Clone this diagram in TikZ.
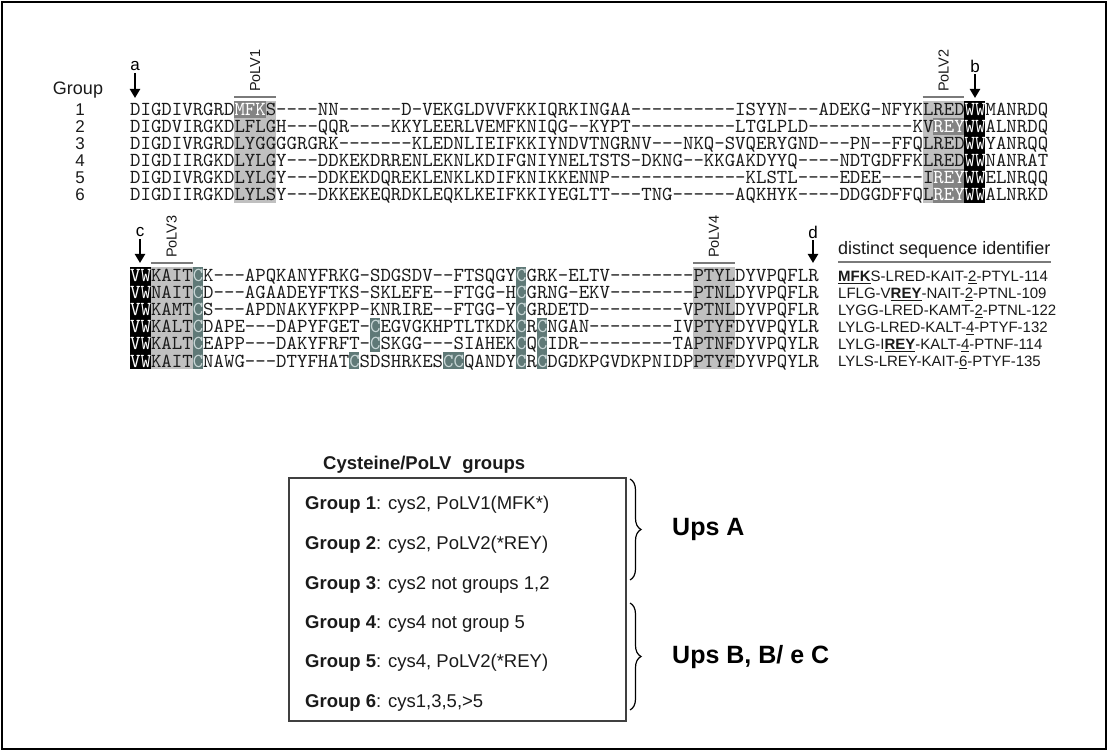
\documentclass[tikz,border=0pt]{standalone}
\usepackage{fontspec}
\setmainfont{Liberation Sans}
\newfontfamily\seqfont{lmmono10-regular.otf}
\usetikzlibrary{arrows.meta,decorations.pathreplacing}
\definecolor{lg}{HTML}{C0C0C0}
\definecolor{dg}{HTML}{838383}
\definecolor{cy}{HTML}{5F7977}
\definecolor{cyt}{HTML}{C8D6D6}
\definecolor{barc}{HTML}{7A7A7A}
\definecolor{txt}{HTML}{1A1A1A}
\ExplSyntaxOn
\cs_new:Npn \dsh #1 { \prg_replicate:nn {#1} { -\kern0pt } }
\ExplSyntaxOff
\newcommand\wt[1]{\textcolor{white}{#1}}
\newcommand\ct[1]{\textcolor{cyt}{#1}}
\newcommand\ulb[1]{\underline{\textbf{#1}}}
\newcommand\uln[1]{\underline{#1}}
% #1 colour, #2 first column, #3 last column, #4 first row centre, #5 last row centre
\newcommand\cellfill[5]{\fill[#1] ({130+(#2-1)*10.43},{#4-8.5}) rectangle ({130+#3*10.43},{#5+8.5});}
\begin{document}
\begin{tikzpicture}[x=1pt,y=-1pt,
  seq/.style={anchor=base west, inner sep=0pt, font=\seqfont\fontsize{19.87pt}{20pt}\selectfont, text=txt},
  idt/.style={anchor=base west, inner sep=0pt, font=\fontsize{15pt}{17pt}\selectfont, text=txt},
  num/.style={inner sep=0pt, font=\fontsize{17pt}{19pt}\selectfont, text=txt},
  polv/.style={rotate=90, anchor=west, inner sep=0pt, font=\fontsize{14.5pt}{16pt}\selectfont, text=txt},
  polvbar/.style={draw=barc, line width=2.2pt},
  tagarrow/.style={-{Triangle[width=10pt,length=9pt]}, line width=2.6pt, shorten <=2pt},
  arrlab/.style={inner sep=0pt, font=\fontsize{17pt}{19pt}\selectfont},
  grp/.style={anchor=base west, inner sep=0pt, font=\fontsize{18.5pt}{21pt}\selectfont, text=txt},
  ups/.style={anchor=west, inner sep=0pt, font=\bfseries\fontsize{25pt}{28pt}\selectfont},
  brc/.style={decorate, decoration={brace, amplitude=11pt}, line width=1.2pt},
]
\useasboundingbox (0,0) rectangle (1109,751);
\draw[line width=2pt] (2,2) rectangle (1106,749);

% ---------- shading, top block
\cellfill{lg}{11}{14}{110}{195}
\cellfill{dg}{11}{13}{110}{110}
\cellfill{lg}{77}{80}{110}{195}
\cellfill{dg}{78}{80}{127}{127}
\cellfill{dg}{78}{80}{178}{195}
\cellfill{black}{81}{82}{110}{195}
% ---------- shading, bottom block
\cellfill{black}{1}{2}{276}{361}
\cellfill{lg}{3}{6}{276}{361}
\cellfill{cy}{7}{7}{276}{361}
\cellfill{lg}{55}{58}{276}{361}
\cellfill{cy}{38}{38}{276}{361}
\cellfill{cy}{24}{24}{327}{344}
\cellfill{cy}{40}{40}{327}{361}
\cellfill{cy}{22}{22}{361}{361}
\cellfill{cy}{31}{32}{361}{361}

% ---------- top block
\node[inner sep=0pt, font=\fontsize{18pt}{20pt}\selectfont, text=txt] (grouplab) at (78,90) {Group};
\node[num] (n1) at (80,110) {1};
\node[num] (n2) at (80,127) {2};
\node[num] (n3) at (80,144) {3};
\node[num] (n4) at (80,161) {4};
\node[num] (n5) at (80,178) {5};
\node[num] (n6) at (80,195) {6};

\node[seq] (t1) at (130,116) {DIGDIVRGRD\wt{MFK}S\dsh{4}NN\dsh{6}D\dsh{1}VEKGLDVVFKKIQRKINGAA\dsh{10}ISYYN\dsh{3}ADEKG\dsh{1}NFYKLRED\wt{WW}MANRDQ};
\node[seq] (t2) at (130,133) {DIGDVIRGKDLFLGH\dsh{3}QQR\dsh{4}KKYLEERLVEMFKNIQG\dsh{2}KYPT\dsh{10}LTGLPLD\dsh{10}KV\wt{REY}\wt{WW}ALNRDQ};
\node[seq] (t3) at (130,150) {DIGDIVRGRDLYGGGGRGRK\dsh{7}KLEDNLIEIFKKIYNDVTNGRNV\dsh{3}NKQ\dsh{1}SVQERYGND\dsh{3}PN\dsh{2}FFQLRED\wt{WW}YANRQQ};
\node[seq] (t4) at (130,167) {DIGDIIRGKDLYLGY\dsh{3}DDKEKDRRENLEKNLKDIFGNIYNELTSTS\dsh{1}DKNG\dsh{2}KKGAKDYYQ\dsh{4}NDTGDFFKLRED\wt{WW}NANRAT};
\node[seq] (t5) at (130,184) {DIGDIVRGKDLYLGY\dsh{3}DDKEKDQREKLENKLKDIFKNIKKENNP\dsh{13}KLSTL\dsh{4}EDEE\dsh{4}I\wt{REY}\wt{WW}ELNRQQ};
\node[seq] (t6) at (130,201) {DIGDIIRGKDLYLSY\dsh{3}DKKEKEQRDKLEQKLKEIFKKIYEGLTT\dsh{3}TNG\dsh{6}AQKHYK\dsh{4}DDGGDFFQL\wt{REY}\wt{WW}ALNRKD};

% PoLV1, PoLV2, arrows a, b
\draw[polvbar] (234.3,97) -- (276.0,97);
\node[polv] (p1) at (255.2,92) {PoLV1};
\draw[polvbar] (922.7,97) -- (964.4,97);
\node[polv] (p2) at (943.5,92) {PoLV2};
\node[arrlab] (la) at (135,66) {a};
\coordinate (ea) at (135,98);
\draw[tagarrow] (la) -- (ea);
\node[arrlab] (lb) at (975,66) {b};
\coordinate (eb) at (975,98);
\draw[tagarrow] (lb) -- (eb);

% ---------- bottom block
\node[seq] (u1) at (130,282) {\wt{VW}KAIT\ct{C}K\dsh{3}APQKANYFRKG\dsh{1}SDGSDV\dsh{2}FTSQGY\ct{C}GRK\dsh{1}ELTV\dsh{8}PTYLDYVPQFLR};
\node[seq] (u2) at (130,299) {\wt{VW}NAIT\ct{C}D\dsh{3}AGAADEYFTKS\dsh{1}SKLEFE\dsh{2}FTGG\dsh{1}H\ct{C}GRNG\dsh{1}EKV\dsh{8}PTNLDYVPQFLR};
\node[seq] (u3) at (130,316) {\wt{VW}KAMT\ct{C}S\dsh{3}APDNAKYFKPP\dsh{1}KNRIRE\dsh{2}FTGG\dsh{1}Y\ct{C}GRDETD\dsh{9}VPTNLDYVPQFLR};
\node[seq] (u4) at (130,333) {\wt{VW}KALT\ct{C}DAPE\dsh{3}DAPYFGET\dsh{1}\ct{C}EGVGKHPTLTKDK\ct{C}R\ct{C}NGAN\dsh{8}IVPTYFDYVPQYLR};
\node[seq] (u5) at (130,350) {\wt{VW}KALT\ct{C}EAPP\dsh{3}DAKYFRFT\dsh{1}\ct{C}SKGG\dsh{3}SIAHEK\ct{C}Q\ct{C}IDR\dsh{9}TAPTNFDYVPQYLR};
\node[seq] (u6) at (130,367) {\wt{VW}KAIT\ct{C}NAWG\dsh{3}DTYFHAT\ct{C}SDSHRKES\ct{CC}QANDY\ct{C}R\ct{C}DGDKPGVDKPNIDPPTYFDYVPQYLR};

% PoLV3, PoLV4, arrows c, d
\draw[polvbar] (150.9,263) -- (192.6,263);
\node[polv] (p3) at (171.7,258) {PoLV3};
\draw[polvbar] (693.2,263) -- (734.9,263);
\node[polv] (p4) at (714.0,258) {PoLV4};
\node[arrlab] (lc) at (140,232) {c};
\coordinate (ec) at (140,263);
\draw[tagarrow] (lc) -- (ec);
\node[arrlab] (ld) at (813,232) {d};
\coordinate (ed) at (813,263);
\draw[tagarrow] (ld) -- (ed);

% identifiers
\node[anchor=base west, inner sep=0pt, font=\fontsize{18pt}{20pt}\selectfont, text=txt] (dsi) at (838,255) {distinct sequence identifier};
\draw[draw=barc, line width=1.5pt] ([yshift=-7pt]dsi.base west) -- ([yshift=-7pt]dsi.base east);
\node[idt] (i1) at (838,281.5) {\ulb{MFK}S-LRED-KAIT-\uln{2}-PTYL-114};
\node[idt] (i2) at (838,298.5) {LFLG-V\ulb{REY}-NAIT-\uln{2}-PTNL-109};
\node[idt] (i3) at (838,315.5) {LYGG-LRED-KAMT-\uln{2}-PTNL-122};
\node[idt] (i4) at (838,332.5) {LYLG-LRED-KALT-\uln{4}-PTYF-132};
\node[idt] (i5) at (838,349.5) {LYLG-I\ulb{REY}-KALT-\uln{4}-PTNF-114};
\node[idt] (i6) at (838,366.5) {LYLS-LREY-KAIT-\uln{6}-PTYF-135};

% ---------- legend box
\node[anchor=base west, inner sep=0pt, font=\bfseries\fontsize{18.5pt}{21pt}\selectfont, text=txt] (title) at (323,469.5) {Cysteine/PoLV\hspace{0.6em}groups};
\node[draw=black!75, line width=1.5pt, anchor=north west, minimum width=337pt, minimum height=243pt, inner sep=0pt] (box) at (288,477) {};
\node[grp] (g1) at (305,509.5) {\textbf{Group 1}: cys2, PoLV1(MFK*)};
\node[grp] (g2) at (305,549.5) {\textbf{Group 2}: cys2, PoLV2(*REY)};
\node[grp] (g3) at (305,589.5) {\textbf{Group 3}: cys2 not groups 1,2};
\node[grp] (g4) at (305,628.5) {\textbf{Group 4}: cys4 not group 5};
\node[grp] (g5) at (305,667.5) {\textbf{Group 5}: cys4, PoLV2(*REY)};
\node[grp] (g6) at (305,707.5) {\textbf{Group 6}: cys1,3,5,>5};

\draw[brc] (630,479) -- (630,580);
\draw[brc] (630,603) -- (630,710);
\node[ups] (upsA) at (672,529) {Ups A};
\node[ups] (upsB) at (672,657) {Ups B, B/ e C};
\end{tikzpicture}
\end{document}
